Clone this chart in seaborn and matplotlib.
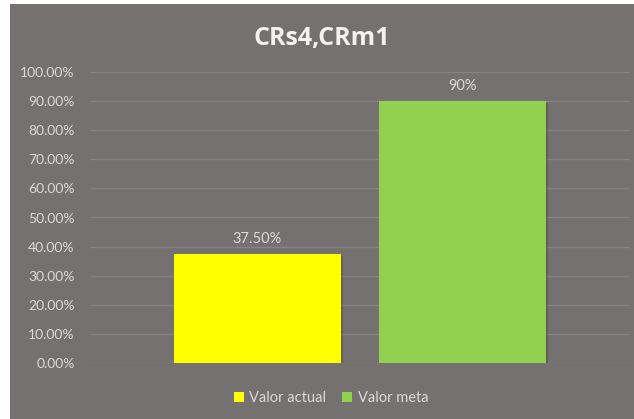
import seaborn as sns
import pandas as pd
import matplotlib.pyplot as plt
import matplotlib.patheffects as pe
from matplotlib.patches import Rectangle

sns.set_theme(style="white")
plt.rcParams['font.family'] = ['Lato', 'DejaVu Sans']

# datos
titulo = "CRs4,CRm1"
categoria = [""]
series = ["Valor actual", "Valor meta"]
valores = [0.375, 0.90]
etiquetas = ["37.50%", "90%"]
colores = ["#ffff00", "#92d050"]

df = pd.DataFrame({
    'categoria': categoria * len(series),
    'serie': series,
    'valor': valores,
})

fondo = "#767171"
texto = "#d9d9d9"

fig = plt.figure(figsize=(6.34, 4.19), dpi=100)
fig.patch.set_facecolor("white")
# recuadro gris del grafico
fig.patches.append(Rectangle((10 / 634, 0), 1 - 10 / 634, 1 - 4 / 419,
                             transform=fig.transFigure, facecolor=fondo,
                             edgecolor="none", zorder=-10))

ax = fig.add_axes([90 / 634, 1 - 363 / 419, 540 / 634, (363 - 72) / 419])
ax.set_facecolor("none")

bar_plot = sns.barplot(data=df, x='categoria', y='valor', hue='serie',
                       palette=colores, width=0.761, gap=0.187,
                       saturation=1, linewidth=0, edgecolor="none",
                       ax=ax, zorder=3)

ax.set_ylim(0, 1.0)
ax.set_xlim(-0.5, 0.5)
ax.set_yticks([i / 10 for i in range(11)])
ax.set_yticklabels([f"{i * 10:.2f}%" for i in range(11)], color=texto, fontsize=10)
ax.tick_params(axis='y', length=0, pad=11)
ax.set_xticks([])
ax.set_xlabel("")
ax.set_ylabel("")
for s in ax.spines.values():
    s.set_visible(False)
ax.grid(axis='y', color="#878383", linewidth=1, zorder=0)
ax.set_axisbelow(True)

# sombra y etiquetas de las barras
for p, lab in zip(bar_plot.patches, etiquetas):
    p.set_path_effects([pe.SimplePatchShadow(offset=(1.5, -1.5), alpha=0.35), pe.Normal()])
    ax.annotate(lab, (p.get_x() + p.get_width() / 2., p.get_height()),
                ha='center', va='bottom', fontsize=10.5, color=texto,
                xytext=(0, 6), textcoords='offset points')

fig.text(322 / 634, 1 - 38 / 419, titulo, ha='center', va='center',
         fontsize=18, fontweight='bold', color="#f2f2f2",
         family=['Open Sans', 'DejaVu Sans'])

leg = fig.legend(*ax.get_legend_handles_labels(), loc='center',
                 bbox_to_anchor=(331 / 634, 1 - 398 / 419), ncol=2,
                 frameon=False, fontsize=10.5, handlelength=0.7, handleheight=0.7,
                 handletextpad=0.35, columnspacing=1.1)
ax.get_legend().remove()
for t in leg.get_texts():
    t.set_color(texto)

fig.savefig("out.png", dpi=100)
